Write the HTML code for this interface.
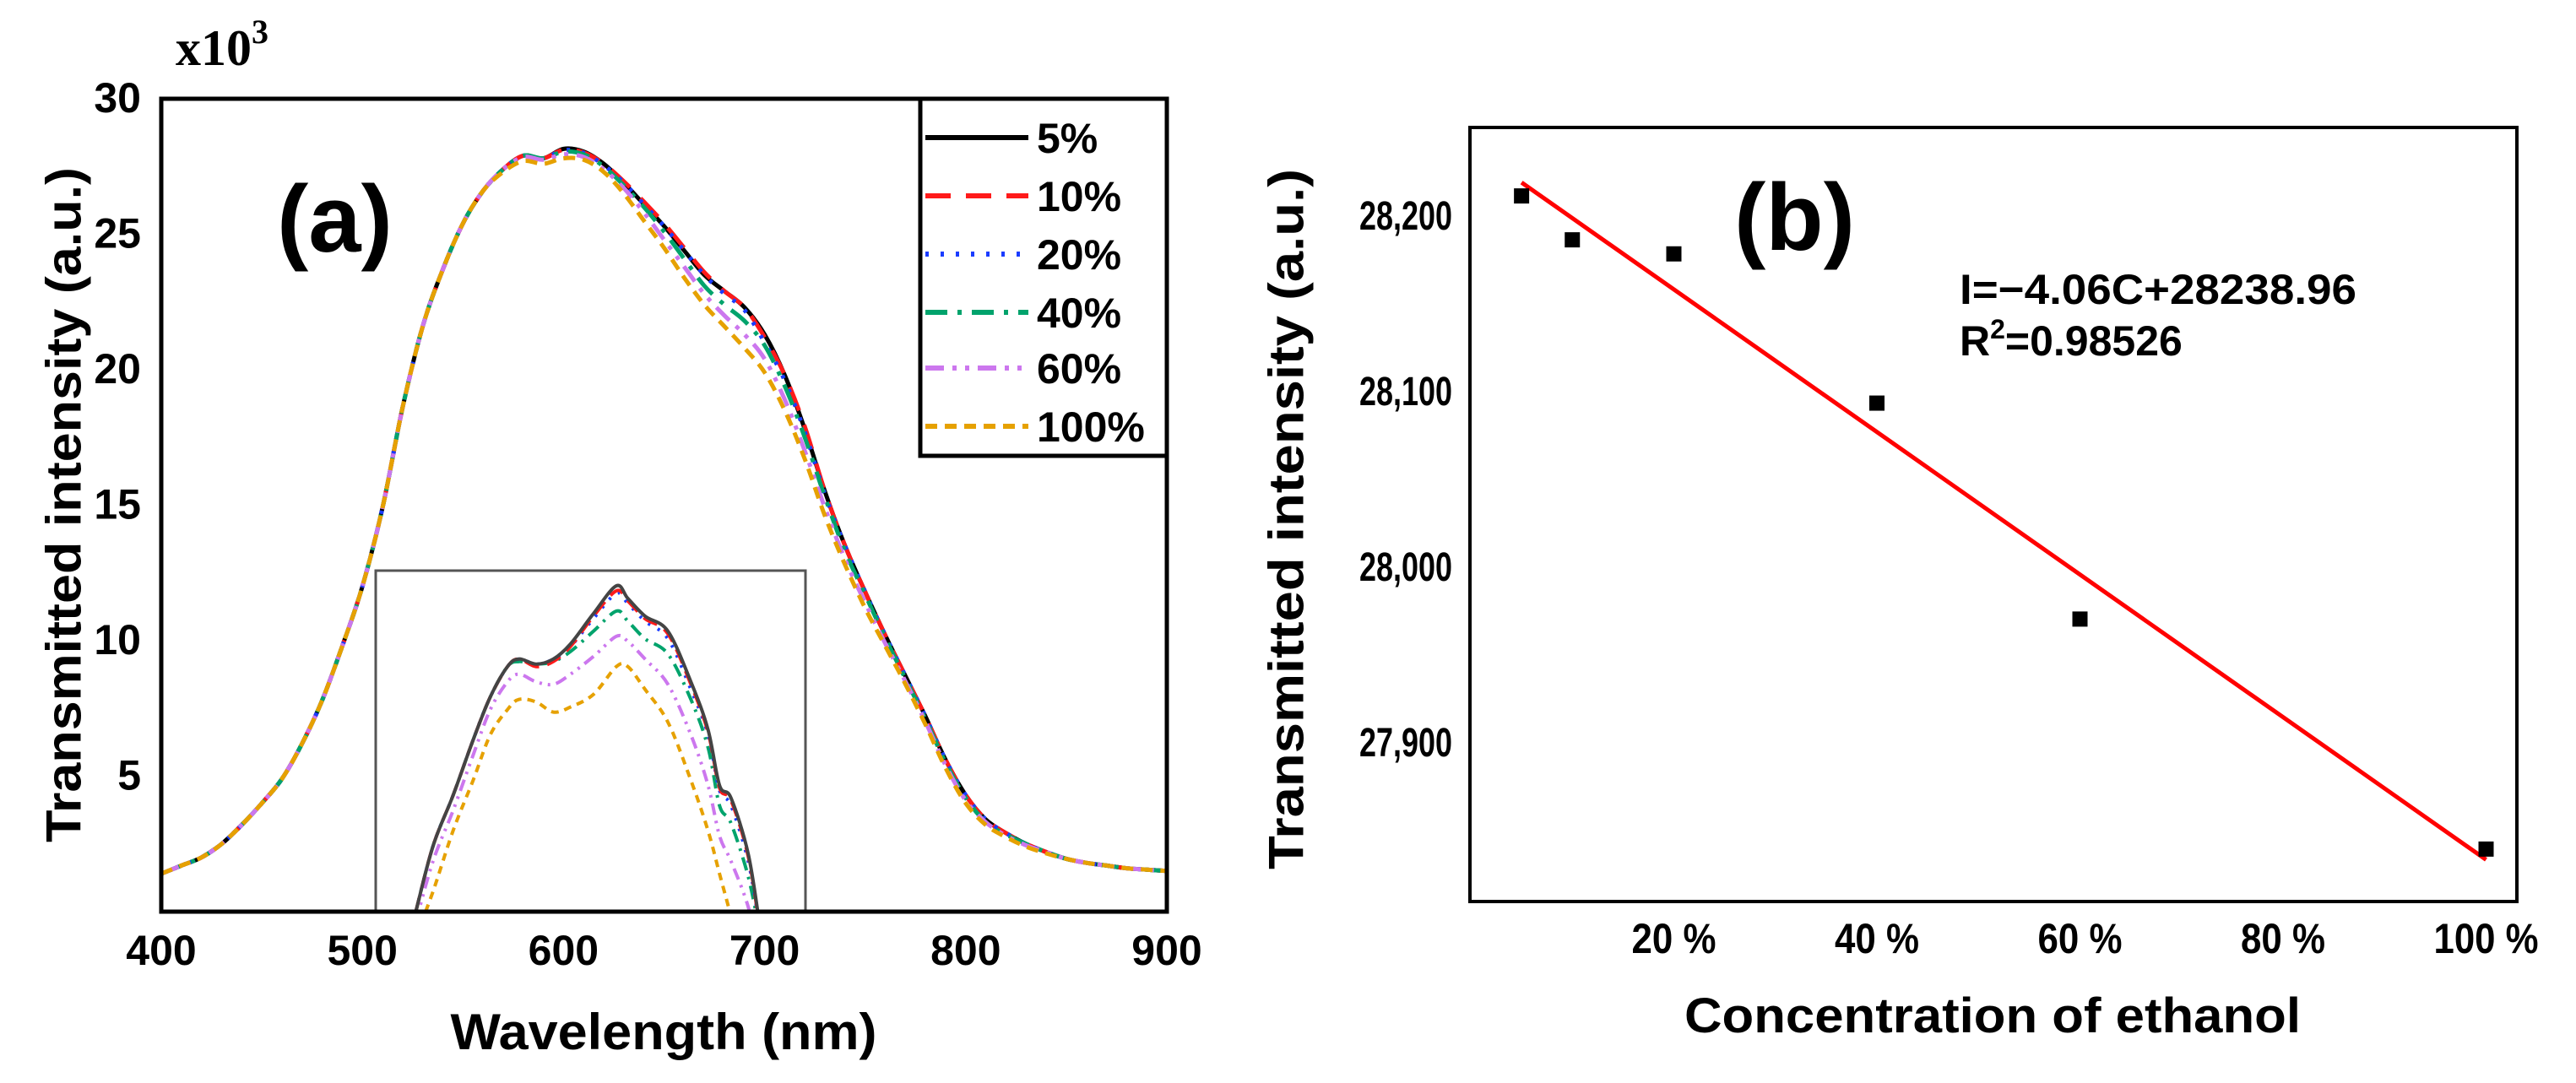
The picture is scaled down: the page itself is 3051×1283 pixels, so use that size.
<!DOCTYPE html>
<html><head><meta charset="utf-8">
<style>
html,body{margin:0;padding:0;background:#fff;}
svg{display:block;}
text{font-family:"Liberation Sans",Arial,sans-serif;font-weight:bold;fill:#000;}
</style></head>
<body>
<svg id="fig" width="3051" height="1283" viewBox="0 0 3051 1283" xmlns="http://www.w3.org/2000/svg">
  <g id="panelA">
    <text x="208" y="77" style="font-family:'Liberation Serif',serif;font-size:60px">x10<tspan dy="-26" style="font-size:40px">3</tspan></text>
    <text x="76" y="598" transform="rotate(-90 76 598)" text-anchor="middle" dominant-baseline="central" style="font-size:58px" textLength="800" lengthAdjust="spacingAndGlyphs">Transmitted intensity (a.u.)</text>
    <text x="786" y="1243" text-anchor="middle" style="font-size:60px" textLength="505" lengthAdjust="spacingAndGlyphs">Wavelength (nm)</text>
    <text x="328" y="298" style="font-size:112px">(a)</text>
    <g id="aMarks"></g>
    <g id="aInset"></g>
    <rect x="191" y="117" width="1191" height="963" fill="none" stroke="#000" stroke-width="5"/>
    <g id="aTicks"></g>
    <g id="aLegend"></g>
  </g>
  <g id="panelB">
    <text x="1524" y="615" transform="rotate(-90 1524 615)" text-anchor="middle" dominant-baseline="central" style="font-size:58px" textLength="830" lengthAdjust="spacingAndGlyphs">Transmitted intensity (a.u.)</text>
    <text x="2360" y="1223" text-anchor="middle" style="font-size:58px" textLength="730" lengthAdjust="spacingAndGlyphs">Concentration of ethanol</text>
    <text x="2054" y="296" style="font-size:112px">(b)</text>
    <text x="2321" y="360" style="font-size:50px" textLength="470" lengthAdjust="spacingAndGlyphs">I=−4.06C+28238.96</text>
    <text x="2321" y="421" style="font-size:50px">R<tspan dy="-20" style="font-size:32px">2</tspan><tspan dy="20">=0.98526</tspan></text>
    <g id="bMarks"></g>
    <rect x="1741" y="151" width="1240" height="917" fill="none" stroke="#000" stroke-width="4"/>
    <g id="bTicks"></g>
  </g>
</svg>
<script>
// ---------- Panel (a) data ----------
const wavelengths = [400,410,420,430,440,450,460,470,480,490,500,510,520,530,540,550,560,570,580,590,600,610,620,630,640,650,660,670,680,690,700,710,720,730,740,750,760,770,780,790,800,810,820,830,840,850,860,870,880,890,900];
const s5   = [1.4,1.7,2.0,2.5,3.2,4.0,4.9,6.2,7.8,9.8,12.0,14.9,18.6,21.6,23.7,25.4,26.6,27.4,27.9,27.8,28.15,28.05,27.6,26.9,26.1,25.3,24.4,23.5,22.9,22.3,21.3,19.8,17.8,15.5,13.5,11.8,10.2,8.7,7.2,5.6,4.3,3.4,2.9,2.5,2.2,1.95,1.8,1.7,1.6,1.55,1.5];
const s10  = [1.4,1.7,2.0,2.5,3.2,4.0,4.9,6.2,7.8,9.8,12.0,14.9,18.6,21.6,23.7,25.4,26.6,27.4,27.9,27.8,28.12,28.02,27.6,26.95,26.2,25.4,24.5,23.6,22.9,22.3,21.2,19.8,17.9,15.5,13.5,11.8,10.2,8.7,7.2,5.6,4.3,3.4,2.9,2.5,2.2,1.95,1.8,1.7,1.6,1.55,1.5];
const s20  = [1.4,1.7,2.0,2.5,3.2,4.0,4.9,6.2,7.8,9.8,12.0,14.9,18.6,21.6,23.7,25.4,26.6,27.4,27.9,27.8,28.1,28.0,27.55,26.9,26.1,25.3,24.4,23.5,22.8,22.2,21.0,19.6,17.7,15.4,13.5,11.8,10.2,8.7,7.2,5.6,4.3,3.4,2.9,2.5,2.2,1.95,1.8,1.7,1.6,1.55,1.5];
const s40  = [1.4,1.7,2.0,2.5,3.2,4.0,4.9,6.2,7.8,9.8,12.0,14.9,18.6,21.6,23.7,25.4,26.6,27.4,27.9,27.8,28.05,27.95,27.5,26.8,26.0,25.1,24.1,23.1,22.4,21.8,20.9,19.4,17.5,15.3,13.3,11.7,10.1,8.6,7.1,5.5,4.2,3.3,2.85,2.5,2.2,1.95,1.8,1.7,1.6,1.55,1.5];
const s60  = [1.4,1.7,2.0,2.5,3.2,4.0,4.9,6.2,7.8,9.8,12.0,14.9,18.6,21.6,23.7,25.4,26.6,27.4,27.85,27.75,27.95,27.85,27.4,26.7,25.8,24.8,23.8,22.8,22.0,21.3,20.4,18.9,17.0,14.9,13.0,11.4,9.9,8.5,7.0,5.4,4.1,3.3,2.8,2.45,2.2,1.95,1.8,1.7,1.6,1.55,1.5];
const s100 = [1.4,1.7,2.0,2.5,3.2,4.0,4.9,6.2,7.8,9.8,12.0,14.9,18.6,21.6,23.7,25.4,26.6,27.3,27.7,27.6,27.8,27.75,27.3,26.5,25.5,24.5,23.4,22.4,21.6,20.8,19.9,18.5,16.7,14.6,12.8,11.2,9.8,8.4,6.9,5.3,4.0,3.2,2.75,2.4,2.15,1.95,1.8,1.7,1.6,1.55,1.5];
const seriesLabels = ["5%","10%","20%","40%","60%","100%"];
const xTicksA = [400,500,600,700,800,900];
const yTicksA = [5,10,15,20,25,30];
// inset (zoom of peak region)
const insetWavelengths = [572,575,578.5,582,585,588,590,593,596,599,603,607,609,612,616,620,623,625,627,630,632];
const i5   = [26.90,27.16,27.36,27.58,27.75,27.87,27.90,27.88,27.90,27.96,28.08,28.19,28.14,28.07,28.01,27.81,27.62,27.40,27.35,27.13,26.85];
const i10  = [26.90,27.16,27.36,27.58,27.75,27.87,27.90,27.87,27.89,27.95,28.07,28.17,28.13,28.06,28.00,27.80,27.61,27.39,27.34,27.12,26.84];
const i20  = [26.90,27.16,27.36,27.58,27.75,27.87,27.90,27.88,27.90,27.95,28.06,28.16,28.12,28.05,27.98,27.78,27.60,27.38,27.32,27.10,26.84];
const i40  = [26.90,27.16,27.36,27.58,27.75,27.87,27.89,27.88,27.89,27.93,28.01,28.09,28.05,27.98,27.92,27.74,27.55,27.32,27.25,27.04,26.82];
const i60  = [26.86,27.10,27.30,27.52,27.70,27.81,27.84,27.81,27.80,27.84,27.91,27.99,27.97,27.90,27.80,27.60,27.40,27.20,27.10,26.92,26.72];
const i100 = [26.80,26.98,27.22,27.42,27.60,27.70,27.74,27.73,27.69,27.71,27.76,27.87,27.87,27.78,27.65,27.42,27.22,27.05,26.88,26.60,26.45];

// ---------- Panel (b) data ----------
const concentrations = [5,10,20,40,60,100];
const intensities = [28211,28186,28178,28093,27970,27839];
const fitSlope = -4.06;
const fitIntercept = 28238.96;
const xTicksB = [20,40,60,80,100];
const yTicksB = [27900,28000,28100,28200];

const NS = "http://www.w3.org/2000/svg";
function mk(tag, attrs, parent){ const e=document.createElementNS(NS,tag); for(const k in attrs) e.setAttribute(k,attrs[k]); parent.appendChild(e); return e; }

// smooth path through points (Catmull-Rom)
function smoothPath(pts){
  let d = 'M'+pts[0][0].toFixed(1)+' '+pts[0][1].toFixed(1);
  for(let i=0;i<pts.length-1;i++){
    const p0=pts[i-1]||pts[i], p1=pts[i], p2=pts[i+1], p3=pts[i+2]||p2;
    const c1=[p1[0]+(p2[0]-p0[0])/6, p1[1]+(p2[1]-p0[1])/6];
    const c2=[p2[0]-(p3[0]-p1[0])/6, p2[1]-(p3[1]-p1[1])/6];
    d += ' C'+c1[0].toFixed(1)+' '+c1[1].toFixed(1)+' '+c2[0].toFixed(1)+' '+c2[1].toFixed(1)+' '+p2[0].toFixed(1)+' '+p2[1].toFixed(1);
  }
  return d;
}

// axis functions A
const ax = v => 191 + (v-400)/500*1191;
const ay = v => 1080 - v/30*963;
const styles = [
  {c:"#000000", d:"none"},
  {c:"#ff1a1a", d:"30 18"},
  {c:"#1a3cff", d:"4 14"},
  {c:"#00a36c", d:"26 12 5 12"},
  {c:"#cc77ee", d:"22 10 5 10 5 10"},
  {c:"#e6a100", d:"14 9"}
];
const mainSeries = [s5,s10,s20,s40,s60,s100];
const gA = document.getElementById('aMarks');
mainSeries.forEach((s,i)=>{
  const d = smoothPath(s.map((v,j)=>[ax(wavelengths[j]), ay(v)]));
  const p = mk('path',{d:d,fill:'none',stroke:styles[i].c,'stroke-width':5,'stroke-dasharray':styles[i].d,'stroke-linejoin':'round'},gA);
  
  
});

// inset
const gI = document.getElementById('aInset');
const IX0=445, IX1=954, IY0=676, IY1=1080;
const ix = v => IX0 + (v-565)/75*(IX1-IX0);
const iy = v => IY1 - (v-26.9)/1.35*(IY1-IY0);
const irect = mk('rect',{x:IX0,y:IY0,width:IX1-IX0,height:IY1-IY0,fill:'#fff',stroke:'#555','stroke-width':3},gI);


mk('clipPath',{id:'iclip'},gI).appendChild(document.createElementNS(NS,'rect'));
const cr = gI.querySelector('clipPath rect'); cr.setAttribute('x',IX0); cr.setAttribute('y',IY0); cr.setAttribute('width',IX1-IX0); cr.setAttribute('height',IY1-IY0);
const insetSeries = [i5,i10,i20,i40,i60,i100];
const iStyles = [{c:"#444",d:"none"},{c:"#ff1a1a",d:"18 10"},{c:"#1a3cff",d:"3 10"},{c:"#00a36c",d:"16 8 3 8"},{c:"#cc77ee",d:"14 7 3 7 3 7"},{c:"#e6a100",d:"9 7"}];
[5,4,3,2,1,0].forEach(i=>{
  const s = insetSeries[i];
  const d = smoothPath(s.map((v,j)=>[ix(insetWavelengths[j]), iy(v)]));
  const p = mk('path',{d:d,fill:'none',stroke:iStyles[i].c,'stroke-width':4,'stroke-dasharray':iStyles[i].d,'clip-path':'url(#iclip)','stroke-linejoin':'round'},gI);
  
  
});

// ticks A
const gT = document.getElementById('aTicks');
xTicksA.forEach(v=>{
  const t = mk('text',{x:ax(v),y:1143,'text-anchor':'middle',style:'font-size:50px'},gT);
  t.textContent = v;
  
  
});
yTicksA.forEach(v=>{
  const t = mk('text',{x:167,y:ay(v)+16,'text-anchor':'end',style:'font-size:50px'},gT);
  t.textContent = v;
  
  
});

// legend
const gL = document.getElementById('aLegend');
const lb = mk('rect',{x:1090,y:117,width:292,height:423,fill:'#fff',stroke:'#000','stroke-width':5},gL);


const legY = [163,232,301,370,436,505];
seriesLabels.forEach((lab,i)=>{
  const g = mk('g',{},gL);
  
  
  mk('line',{x1:1096,y1:legY[i],x2:1218,y2:legY[i],stroke:styles[i].c,'stroke-width':6,'stroke-dasharray':styles[i].d},g);
  const t = mk('text',{x:1228,y:legY[i]+18,style:'font-size:50px'},g);
  t.textContent = lab;
});

// ---------- Panel B ----------
const bx = v => 1742 + v/20*240.5;
const by = v => 255 + (28200 - v)*2.08;
const gB = document.getElementById('bMarks');
const fl = mk('line',{x1:bx(5),y1:by(fitSlope*5+fitIntercept),x2:bx(100),y2:by(fitSlope*100+fitIntercept),stroke:'#ff0000','stroke-width':5},gB);


concentrations.forEach((c,i)=>{
  const r = mk('rect',{x:bx(c)-9,y:by(intensities[i])-9,width:18,height:18,fill:'#000'},gB);
  
  
});
const gBT = document.getElementById('bTicks');
xTicksB.forEach(v=>{
  const t = mk('text',{x:bx(v),y:1129,'text-anchor':'middle',style:'font-size:50px',textLength:v==100?124:100,lengthAdjust:'spacingAndGlyphs'},gBT);
  t.textContent = v+' %';
  
  
});
yTicksB.forEach(v=>{
  const t = mk('text',{x:1720,y:by(v)+17,'text-anchor':'end',style:'font-size:48px',textLength:110,lengthAdjust:'spacingAndGlyphs'},gBT);
  t.textContent = v.toLocaleString('en-US');
  
  
});
</script>
</body></html>
